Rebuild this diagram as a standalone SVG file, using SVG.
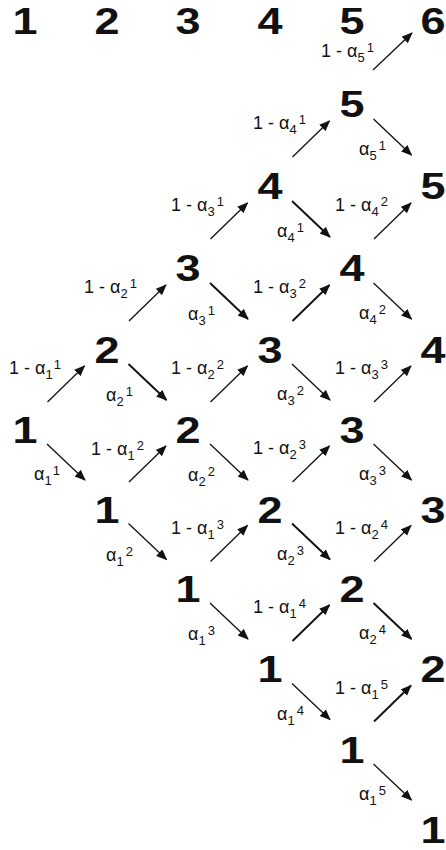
<svg xmlns="http://www.w3.org/2000/svg" width="446" height="850" viewBox="0 0 446 850">
<defs>
<marker id="ah" markerWidth="12" markerHeight="10" refX="10" refY="4.5" orient="auto" markerUnits="userSpaceOnUse"><path d="M0,0 L11,4.5 L0,9 z" fill="#111"/></marker>
<style>
.n{font-family:"Liberation Sans",Arial,sans-serif;font-weight:bold;font-size:36px;fill:#111;text-anchor:middle}
.l{font-family:"Liberation Sans",Arial,sans-serif;font-size:18px;fill:#111}
.s{font-size:13px}
line{stroke:#111;stroke-width:1.3;marker-end:url(#ah)}
line.b{stroke-width:1.9}
</style>
</defs>
<rect width="446" height="850" fill="#fff"/>
<g id="header">
<text class="n" transform="translate(25 34) scale(1.25 1)">1</text>
<text class="n" transform="translate(107 34) scale(1.25 1)">2</text>
<text class="n" transform="translate(188 34) scale(1.25 1)">3</text>
<text class="n" transform="translate(270 34) scale(1.25 1)">4</text>
<text class="n" transform="translate(352 34) scale(1.25 1)">5</text>
</g>
<g id="n6-6"><text class="n" transform="translate(433 34) scale(1.25 1)">6</text></g>
<g id="n1-1"><text class="n" transform="translate(25 443) scale(1.25 1)">1</text></g>
<g id="n2-2"><text class="n" transform="translate(107 363) scale(1.25 1)">2</text></g>
<g id="n2-1"><text class="n" transform="translate(107 523) scale(1.25 1)">1</text></g>
<g id="n3-3"><text class="n" transform="translate(188 281) scale(1.25 1)">3</text></g>
<g id="n3-2"><text class="n" transform="translate(188 443) scale(1.25 1)">2</text></g>
<g id="n3-1"><text class="n" transform="translate(188 602) scale(1.25 1)">1</text></g>
<g id="n4-4"><text class="n" transform="translate(270 199) scale(1.25 1)">4</text></g>
<g id="n4-3"><text class="n" transform="translate(270 363) scale(1.25 1)">3</text></g>
<g id="n4-2"><text class="n" transform="translate(270 523) scale(1.25 1)">2</text></g>
<g id="n4-1"><text class="n" transform="translate(270 682) scale(1.25 1)">1</text></g>
<g id="n5-5"><text class="n" transform="translate(352 117) scale(1.25 1)">5</text></g>
<g id="n5-4"><text class="n" transform="translate(352 281) scale(1.25 1)">4</text></g>
<g id="n5-3"><text class="n" transform="translate(352 443) scale(1.25 1)">3</text></g>
<g id="n5-2"><text class="n" transform="translate(352 602) scale(1.25 1)">2</text></g>
<g id="n5-1"><text class="n" transform="translate(352 763) scale(1.25 1)">1</text></g>
<g id="n6-5"><text class="n" transform="translate(433 199) scale(1.25 1)">5</text></g>
<g id="n6-4"><text class="n" transform="translate(433 363) scale(1.25 1)">4</text></g>
<g id="n6-3"><text class="n" transform="translate(433 523) scale(1.25 1)">3</text></g>
<g id="n6-2"><text class="n" transform="translate(433 682) scale(1.25 1)">2</text></g>
<g id="n6-1"><text class="n" transform="translate(433 843) scale(1.25 1)">1</text></g>
<g id="connectors">
<line x1="47.5" y1="402" x2="84.5" y2="366"/>
<line x1="47" y1="444" x2="85" y2="480"/>
<line x1="129" y1="321" x2="166" y2="285"/>
<line class="b" x1="128.5" y1="364" x2="166.5" y2="400"/>
<line x1="129" y1="482" x2="166" y2="446"/>
<line x1="128.5" y1="523.5" x2="166.5" y2="559.5"/>
<line x1="210.5" y1="239" x2="247.5" y2="203"/>
<line class="b" x1="210" y1="283" x2="248" y2="319"/>
<line x1="210.5" y1="402" x2="247.5" y2="366"/>
<line x1="210" y1="444" x2="248" y2="480"/>
<line x1="210.5" y1="561.5" x2="247.5" y2="525.5"/>
<line x1="210" y1="603" x2="248" y2="639"/>
<line x1="292.5" y1="157" x2="329.5" y2="121"/>
<line class="b" x1="292" y1="201" x2="330" y2="237"/>
<line class="b" x1="292.5" y1="321" x2="329.5" y2="285"/>
<line x1="292" y1="364" x2="330" y2="400"/>
<line x1="292.5" y1="482" x2="329.5" y2="446"/>
<line class="b" x1="292" y1="523.5" x2="330" y2="559.5"/>
<line class="b" x1="292.5" y1="641" x2="329.5" y2="605"/>
<line x1="292" y1="683.5" x2="330" y2="719.5"/>
<line x1="373" y1="70" x2="412" y2="33"/>
<line x1="373.5" y1="119" x2="411.5" y2="155"/>
<line x1="374" y1="239" x2="411" y2="203"/>
<line x1="373.5" y1="283" x2="411.5" y2="319"/>
<line x1="374" y1="402" x2="411" y2="366"/>
<line x1="373.5" y1="444" x2="411.5" y2="480"/>
<line x1="374" y1="561.5" x2="411" y2="525.5"/>
<line class="b" x1="373.5" y1="603" x2="411.5" y2="639"/>
<line class="b" x1="374" y1="721.5" x2="411" y2="685.5"/>
<line x1="373.5" y1="764" x2="411.5" y2="800"/>
</g>
<g id="labels">
<text class="l" x="9" y="374">1 - α<tspan class="s" dy="5">1</tspan><tspan class="s" dx="2" dy="-10">1</tspan></text>
<text class="l" x="34" y="480">α<tspan class="s" dy="5">1</tspan><tspan class="s" dx="2" dy="-10">1</tspan></text>
<text class="l" x="84" y="293">1 - α<tspan class="s" dy="5">2</tspan><tspan class="s" dx="2" dy="-10">1</tspan></text>
<text class="l" x="106" y="401">α<tspan class="s" dy="5">2</tspan><tspan class="s" dx="2" dy="-10">1</tspan></text>
<text class="l" x="91" y="455">1 - α<tspan class="s" dy="5">1</tspan><tspan class="s" dx="2" dy="-10">2</tspan></text>
<text class="l" x="106" y="561">α<tspan class="s" dy="5">1</tspan><tspan class="s" dx="2" dy="-10">2</tspan></text>
<text class="l" x="171" y="211">1 - α<tspan class="s" dy="5">3</tspan><tspan class="s" dx="2" dy="-10">1</tspan></text>
<text class="l" x="188" y="320">α<tspan class="s" dy="5">3</tspan><tspan class="s" dx="2" dy="-10">1</tspan></text>
<text class="l" x="171" y="374">1 - α<tspan class="s" dy="5">2</tspan><tspan class="s" dx="2" dy="-10">2</tspan></text>
<text class="l" x="188" y="481">α<tspan class="s" dy="5">2</tspan><tspan class="s" dx="2" dy="-10">2</tspan></text>
<text class="l" x="171" y="534">1 - α<tspan class="s" dy="5">1</tspan><tspan class="s" dx="2" dy="-10">3</tspan></text>
<text class="l" x="188" y="640">α<tspan class="s" dy="5">1</tspan><tspan class="s" dx="2" dy="-10">3</tspan></text>
<text class="l" x="253" y="129">1 - α<tspan class="s" dy="5">4</tspan><tspan class="s" dx="2" dy="-10">1</tspan></text>
<text class="l" x="277" y="237">α<tspan class="s" dy="5">4</tspan><tspan class="s" dx="2" dy="-10">1</tspan></text>
<text class="l" x="253" y="293">1 - α<tspan class="s" dy="5">3</tspan><tspan class="s" dx="2" dy="-10">2</tspan></text>
<text class="l" x="277" y="400">α<tspan class="s" dy="5">3</tspan><tspan class="s" dx="2" dy="-10">2</tspan></text>
<text class="l" x="253" y="454">1 - α<tspan class="s" dy="5">2</tspan><tspan class="s" dx="2" dy="-10">3</tspan></text>
<text class="l" x="277" y="560">α<tspan class="s" dy="5">2</tspan><tspan class="s" dx="2" dy="-10">3</tspan></text>
<text class="l" x="253" y="613">1 - α<tspan class="s" dy="5">1</tspan><tspan class="s" dx="2" dy="-10">4</tspan></text>
<text class="l" x="277" y="720">α<tspan class="s" dy="5">1</tspan><tspan class="s" dx="2" dy="-10">4</tspan></text>
<text class="l" x="321" y="57">1 - α<tspan class="s" dy="5">5</tspan><tspan class="s" dx="2" dy="-10">1</tspan></text>
<text class="l" x="359" y="155">α<tspan class="s" dy="5">5</tspan><tspan class="s" dx="2" dy="-10">1</tspan></text>
<text class="l" x="335" y="211">1 - α<tspan class="s" dy="5">4</tspan><tspan class="s" dx="2" dy="-10">2</tspan></text>
<text class="l" x="359" y="319">α<tspan class="s" dy="5">4</tspan><tspan class="s" dx="2" dy="-10">2</tspan></text>
<text class="l" x="335" y="374">1 - α<tspan class="s" dy="5">3</tspan><tspan class="s" dx="2" dy="-10">3</tspan></text>
<text class="l" x="359" y="480">α<tspan class="s" dy="5">3</tspan><tspan class="s" dx="2" dy="-10">3</tspan></text>
<text class="l" x="335" y="534">1 - α<tspan class="s" dy="5">2</tspan><tspan class="s" dx="2" dy="-10">4</tspan></text>
<text class="l" x="359" y="639">α<tspan class="s" dy="5">2</tspan><tspan class="s" dx="2" dy="-10">4</tspan></text>
<text class="l" x="335" y="694">1 - α<tspan class="s" dy="5">1</tspan><tspan class="s" dx="2" dy="-10">5</tspan></text>
<text class="l" x="359" y="800">α<tspan class="s" dy="5">1</tspan><tspan class="s" dx="2" dy="-10">5</tspan></text>
</g>
</svg>
